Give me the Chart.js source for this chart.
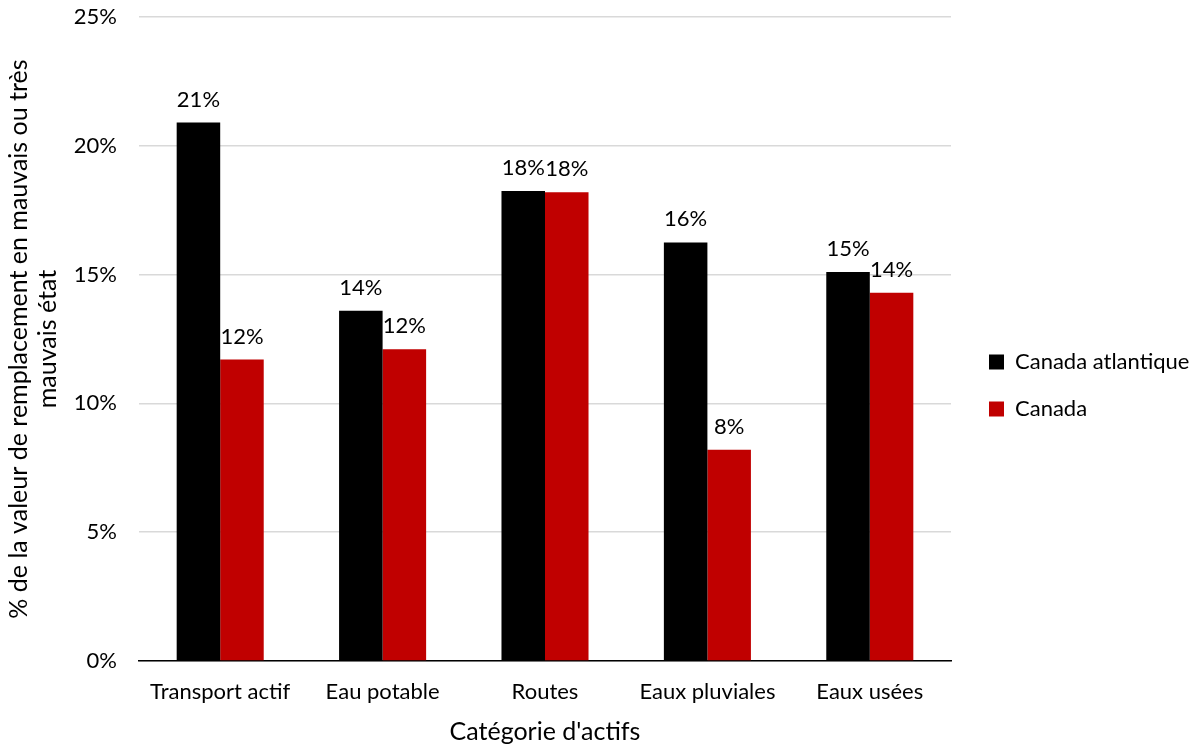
<!DOCTYPE html>
<html>
<head>
<meta charset="utf-8">
<script src="https://cdn.jsdelivr.net/npm/chart.js@4/dist/chart.umd.min.js"></script>
<style>
  html, body { margin: 0; padding: 0; background: #fff; }
  #wrap { width: 1198px; height: 747px; position: relative; }
</style>
</head>
<body>
<div id="wrap"><canvas id="c" width="1198" height="747"></canvas></div>
<script>
// Catégories d'actifs et part (%) de la valeur de remplacement en mauvais ou très mauvais état
const categories = ["Transport actif", "Eau potable", "Routes", "Eaux pluviales", "Eaux usées"];
const canadaAtlantique = [20.9, 13.6, 18.25, 16.25, 15.1];
const canada = [11.7, 12.1, 18.2, 8.2, 14.3];
const yTicks = [0, 5, 10, 15, 20, 25];

const FONT = "Lato, 'Open Sans', sans-serif";
const FS = 22;
const TITLE_FS = 25;

// Étiquettes de valeur au-dessus de chaque barre
const valueLabels = {
  id: 'valueLabels',
  afterDatasetsDraw(chart) {
    const ctx = chart.ctx;
    ctx.save();
    ctx.font = FS + "px " + FONT;
    ctx.fillStyle = "#000";
    ctx.textAlign = "center";
    ctx.textBaseline = "alphabetic";
    chart.data.datasets.forEach((ds, i) => {
      const meta = chart.getDatasetMeta(i);
      meta.data.forEach((bar, j) => {
        ctx.fillText(Math.round(ds.data[j]) + "%", bar.x, bar.y - 16);
      });
    });
    ctx.restore();
  }
};

// Légende à droite : largeur fixe et position ajustée
const legendPlacement = {
  id: 'legendPlacement',
  beforeInit(chart) {
    const legend = chart.legend;
    const fit = legend.fit;
    legend.fit = function () {
      fit.call(this);
      this.width = 247;
    };
  },
  afterLayout(chart) {
    const lg = chart.legend;
    const dx = 989 - 25 - lg.left;
    lg.left += dx;
    lg.right += dx;
    lg.top += 10;
    lg.bottom += 10;
  }
};

new Chart(document.getElementById('c'), {
  type: 'bar',
  data: {
    labels: categories,
    datasets: [
      { label: "Canada atlantique", data: canadaAtlantique, backgroundColor: "#000000" },
      { label: "Canada", data: canada, backgroundColor: "#c00000" }
    ]
  },
  options: {
    responsive: false,
    animation: false,
    devicePixelRatio: 1,
    layout: { padding: { top: 4, left: 2, right: 0, bottom: 0 } },
    datasets: { bar: { categoryPercentage: 0.536, barPercentage: 1.0 } },
    plugins: {
      tooltip: { enabled: false },
      legend: {
        position: 'right',
        align: 'center',
        labels: {
          font: { family: FONT, size: FS },
          color: "#000",
          boxWidth: 15,
          boxHeight: 15,
          padding: 25
        }
      }
    },
    scales: {
      x: {
        afterFit(axis) { axis.height = 86; },
        grid: { display: false, drawTicks: false },
        border: { display: true, color: "#000", width: 1.5 },
        ticks: { font: { family: FONT, size: FS }, color: "#000", padding: 18, maxRotation: 0 },
        title: {
          display: true,
          text: "Catégorie d'actifs",
          font: { family: FONT, size: TITLE_FS },
          color: "#000",
          padding: { top: 0, bottom: 0 }
        }
      },
      y: {
        min: 0,
        max: 25,
        afterBuildTicks(axis) { axis.ticks = yTicks.map(v => ({ value: v })); },
        afterFit(axis) { axis.width = 137; axis.paddingTop = 17; },
        grid: { color: "#d9d9d9", lineWidth: 1.5, drawTicks: false },
        border: { display: false },
        ticks: {
          font: { family: FONT, size: FS },
          color: "#000",
          padding: 22,
          callback: v => v + "%"
        },
        title: {
          display: true,
          text: ["% de la valeur de remplacement en mauvais ou très", "mauvais état"],
          font: { family: FONT, size: TITLE_FS, lineHeight: 1.15 },
          color: "#000",
          padding: { top: 3, bottom: 0 }
        }
      }
    }
  },
  plugins: [valueLabels, legendPlacement]
});
</script>
</body>
</html>
